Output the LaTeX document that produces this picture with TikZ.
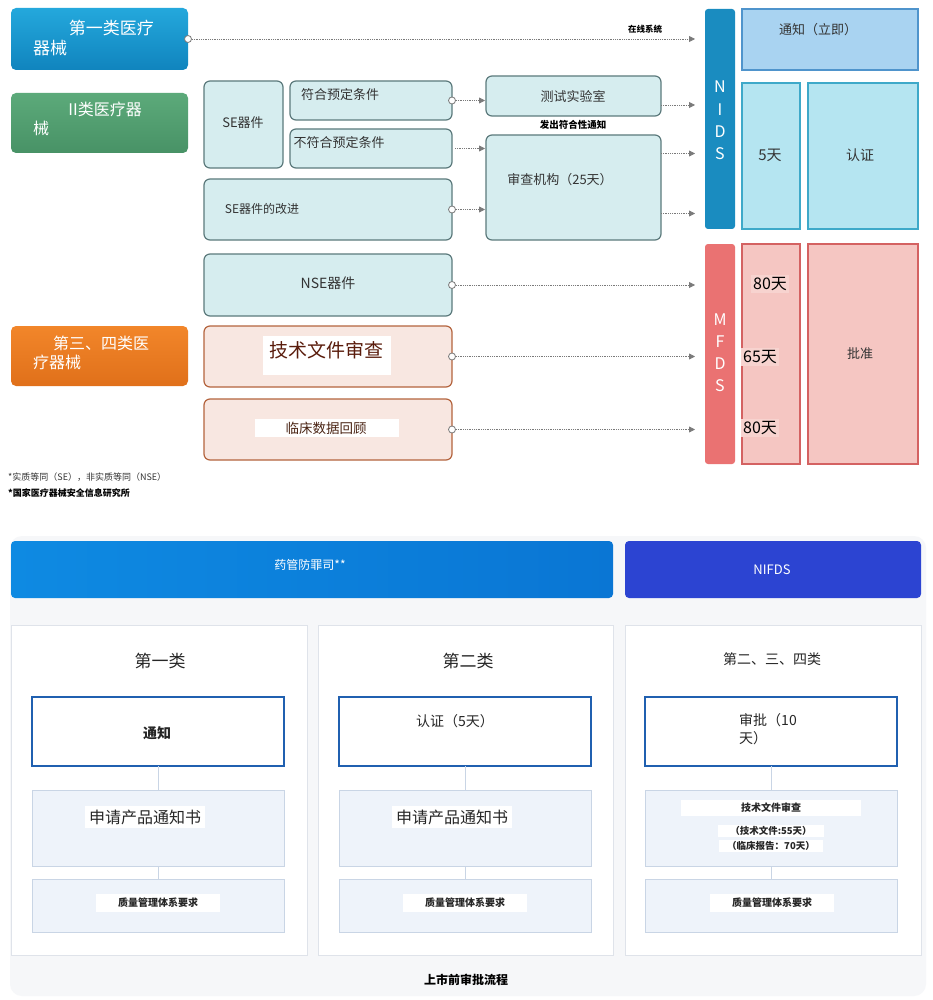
\documentclass[tikz,border=0pt]{standalone}
\usepackage{fontspec}
\newfontfamily\cjk{Noto Sans CJK SC}
\usetikzlibrary{arrows.meta,calc}
\definecolor{lbfill}{HTML}{D6EDEF}
\definecolor{lbdraw}{HTML}{5C7A7C}
\definecolor{pbfill}{HTML}{F8E7E1}
\definecolor{pbdraw}{HTML}{B4643E}
\definecolor{txtc}{HTML}{333333}
\definecolor{conngray}{HTML}{7A7A7A}
\definecolor{nidsc}{HTML}{1A8CC0}
\definecolor{ntffill}{HTML}{A9D3F1}
\definecolor{ntfdraw}{HTML}{4F94CC}
\definecolor{cyfill}{HTML}{B5E5F1}
\definecolor{cydraw}{HTML}{3EA9C9}
\definecolor{mfdsc}{HTML}{EA7272}
\definecolor{pkfill}{HTML}{F5C6C2}
\definecolor{pkdraw}{HTML}{D46262}
\definecolor{pkpatch}{HTML}{F7D3CF}
\definecolor{cardbg}{HTML}{F6F7F9}
\definecolor{paneldraw}{HTML}{DFE3EA}
\definecolor{bbdraw}{HTML}{2060B0}
\definecolor{ltfill}{HTML}{EEF3FA}
\definecolor{ltdraw}{HTML}{C9D5E5}
\definecolor{techc}{HTML}{5A1C0C}
\definecolor{clinc}{HTML}{4A2414}
\newcommand\mybox[7]{\node[#1,minimum width={(#4-#2)*1pt},minimum height={(#5-#3)*1pt},inner sep=0pt,outer sep=0pt] (#6) at ({(#2+#4)/2},{(#3+#5)/2}) {#7};}
\tikzset{
  lbox/.style={rounded corners=6pt, draw=lbdraw, fill=lbfill, line width=1.2pt},
  pbox/.style={rounded corners=6pt, draw=pbdraw, fill=pbfill, line width=1.2pt},
  txt/.style={font=\cjk, text=txtc, inner sep=0pt},
  wtxt/.style={font=\cjk, text=white, inner sep=0pt},
  conn/.style={draw=conngray, densely dotted, line width=0.8pt, -{Triangle[length=6pt,width=6pt]}, shorten >=10pt},
  conns/.style={draw=conngray, densely dotted, line width=0.8pt, -{Triangle[length=6pt,width=6pt]}, shorten >=1pt},
  dotc/.style={circle, draw=conngray, fill=white, line width=0.8pt, inner sep=0pt, minimum size=7pt},
  panel/.style={fill=white, draw=paneldraw, line width=0.8pt},
  bbox/.style={fill=white, draw=bbdraw, line width=1.8pt},
  ltbox/.style={fill=ltfill, draw=ltdraw, line width=0.8pt},
  vline/.style={draw=ltdraw, line width=0.8pt},
}
\begin{document}
\begin{tikzpicture}[x=1pt,y=-1pt]
\useasboundingbox (0,0) rectangle (933,1000);
\fill[white] (0,0) rectangle (933,1000);
% ---------------- top section ----------------
\mybox{rounded corners=5pt, top color={rgb,255:red,36;green,168;blue,220}, bottom color={rgb,255:red,16;green,132;blue,190}}{11}{8}{188}{70}{cat1}{}
\node[wtxt, align=left, anchor=west, font=\cjk\fontsize{17}{20}\selectfont] (cat1t) at (33,38) {\hspace*{2.1em}第一类医疗\\器械};
\mybox{rounded corners=5pt, top color={rgb,255:red,92;green,170;blue,122}, bottom color={rgb,255:red,72;green,146;blue,102}}{11}{93}{188}{153}{cat2}{}
\node[wtxt, align=left, anchor=west, font=\cjk\fontsize{16}{19}\selectfont] (cat2t) at (33,119) {\hspace*{2.2em}II类医疗器\\械};
\mybox{rounded corners=5pt, top color={rgb,255:red,242;green,134;blue,42}, bottom color={rgb,255:red,224;green,112;blue,26}}{11}{326}{188}{386}{cat3}{}
\node[wtxt, align=left, anchor=west, font=\cjk\fontsize{16}{19}\selectfont] (cat3t) at (33,353) {\hspace*{1.25em}第三、四类医\\疗器械};

\mybox{lbox}{204}{81}{283}{168}{se}{}
\node[txt, font=\cjk\fontsize{13}{16}\selectfont] (set) at (243,123) {SE器件};
\mybox{lbox}{290}{81}{452}{120}{fh}{}
\node[txt, font=\cjk\fontsize{13}{16}\selectfont] (fht) at (340,95) {符合预定条件};
\mybox{lbox}{290}{129}{452}{168}{nfh}{}
\node[txt, font=\cjk\fontsize{13}{16}\selectfont] (nfht) at (339,143) {不符合预定条件};
\mybox{lbox}{204}{179}{452}{240}{seg}{}
\node[txt, font=\cjk\fontsize{12}{15}\selectfont] (segt) at (262,209) {SE器件的改进};
\mybox{lbox}{486}{76}{661}{116}{test}{}
\node[txt, font=\cjk\fontsize{13}{16}\selectfont] (testt) at (573,96) {测试实验室};
\node[txt, font=\cjk\bfseries\fontsize{9.5}{12}\selectfont, text=black] (issue) at (573,125) {发出符合性通知};
\mybox{lbox}{486}{135}{661}{240}{rev}{}
\node[txt, font=\cjk\fontsize{13}{16}\selectfont] (revt) at (560,180) {审查机构（25天）};

\mybox{rounded corners=3pt, fill=nidsc}{705}{9}{735}{229}{nids}{}
\node[wtxt, font=\cjk\fontsize{16}{18}\selectfont] (n1) at (720,87) {N};
\node[wtxt, font=\cjk\fontsize{16}{18}\selectfont] (n2) at (720,110) {I};
\node[wtxt, font=\cjk\fontsize{16}{18}\selectfont] (n3) at (720,132) {D};
\node[wtxt, font=\cjk\fontsize{16}{18}\selectfont] (n4) at (720,154) {S};
\mybox{fill=ntffill, draw=ntfdraw, line width=1.2pt}{742}{9}{918}{70}{ntf}{}
\node[txt, font=\cjk\fontsize{13}{16}\selectfont] (ntft) at (818,30) {通知（立即）};
\mybox{fill=cyfill, draw=cydraw, line width=1.2pt}{742}{83}{800}{229}{d5}{}
\node[txt, font=\cjk\fontsize{15}{18}\selectfont] (d5t) at (770,155) {5天};
\mybox{fill=cyfill, draw=cydraw, line width=1.2pt}{808}{83}{918}{229}{cert}{}
\node[txt, font=\cjk\fontsize{14}{17}\selectfont] (certt) at (860,155) {认证};

\mybox{lbox}{204}{254}{452}{316}{nse}{}
\node[txt, font=\cjk\fontsize{14}{17}\selectfont] (nset) at (328,283) {NSE器件};
\mybox{pbox}{204}{326}{452}{387}{tech}{}
\mybox{fill=white, draw=none}{263}{336}{391}{375}{techw}{}
\node[txt, text=techc, font=\cjk\fontsize{19}{22}\selectfont] (techt) at (326,350) {技术文件审查};
\mybox{pbox}{204}{399}{452}{460}{clin}{}
\mybox{fill=white, draw=none}{255}{419}{399}{437}{clinw}{}
\node[txt, text=clinc, font=\cjk\fontsize{13.5}{16}\selectfont] (clint) at (326,428) {临床数据回顾};

\mybox{rounded corners=3pt, fill=mfdsc}{705}{244}{735}{464}{mfds}{}
\node[wtxt, font=\cjk\fontsize{16}{18}\selectfont] (m1) at (720,320) {M};
\node[wtxt, font=\cjk\fontsize{16}{18}\selectfont] (m2) at (720,342) {F};
\node[wtxt, font=\cjk\fontsize{16}{18}\selectfont] (m3) at (720,364) {D};
\node[wtxt, font=\cjk\fontsize{16}{18}\selectfont] (m4) at (720,386) {S};
\mybox{fill=pkfill, draw=pkdraw, line width=1.2pt}{742}{244}{800}{464}{dcol}{}
\mybox{fill=pkfill, draw=pkdraw, line width=1.2pt}{808}{244}{918}{464}{appr}{}
\node[txt, text=black, fill=pkpatch, inner sep=2pt, font=\cjk\fontsize{16}{19}\selectfont] (d80a) at (770,284) {80天};
\node[txt, text=black, fill=pkpatch, inner sep=2pt, font=\cjk\fontsize{16}{19}\selectfont] (d65) at (760,357) {65天};
\node[txt, text=black, fill=pkpatch, inner sep=2pt, font=\cjk\fontsize{16}{19}\selectfont] (d80b) at (760,428) {80天};
\node[txt, font=\cjk\fontsize{13}{16}\selectfont] (apprt) at (860,354) {批准};

% connectors top
\node[dotc] (dt1) at (cat1.east) {};
\draw[conn] (dt1.east) -- (dt1.east -| nids.west);
\node[txt, text=black, font=\cjk\bfseries\fontsize{8.5}{10}\selectfont] (online) at (645,29) {在线系统};
\node[dotc] (dt2) at (fh.east) {};
\draw[conns] (dt2.east) -- (dt2.east -| test.west);
\coordinate (c3) at ($(nfh.east)+(3,0)$);
\draw[conns] (c3) -- (c3 -| rev.west);
\node[dotc] (dt4) at (seg.east) {};
\draw[conns] (dt4.east) -- (dt4.east -| rev.west);
\coordinate (c5) at ($(test.east)+(0,9)$);
\draw[conn] (c5) -- (c5 -| nids.west);
\coordinate (c6) at ($(rev.east)+(0,-34)$);
\draw[conn] (c6) -- (c6 -| nids.west);
\coordinate (c7) at ($(rev.east)+(0,26)$);
\draw[conn] (c7) -- (c7 -| nids.west);
\node[dotc] (dt8) at (nse.east) {};
\draw[conn] (dt8.east) -- (dt8.east -| mfds.west);
\node[dotc] (dt9) at (tech.east) {};
\draw[conn] (dt9.east) -- (dt9.east -| mfds.west);
\node[dotc] (dt10) at (clin.east) {};
\draw[conn] (dt10.east) -- (dt10.east -| mfds.west);

\node[txt, anchor=west, text=black!80, font=\cjk\fontsize{9}{11}\selectfont] (fn1) at (8,477) {*实质等同（SE），非实质等同（NSE）};
\node[txt, anchor=west, text=black, font=\cjk\bfseries\fontsize{9}{11}\selectfont] (fn2) at (8,493) {*国家医疗器械安全信息研究所};

% ---------------- bottom section ----------------
\fill[cardbg, rounded corners=12pt] (10,536) rectangle (926,996);
\mybox{rounded corners=4pt, left color={rgb,255:red,14;green,138;blue,226}, right color={rgb,255:red,10;green,118;blue,212}}{11}{541}{613}{598}{hdr1}{}
\node[wtxt, font=\cjk\fontsize{12}{14}\selectfont] (hdr1t) at (310,565) {药管防罪司**};
\mybox{rounded corners=4pt, fill={rgb,255:red,44;green,68;blue,210}}{625}{541}{921}{598}{hdr2}{}
\node[wtxt, font=\cjk\fontsize{13}{15}\selectfont] (hdr2t) at (772,570) {NIFDS};

\mybox{panel}{11}{625}{307}{955}{p1}{}
\mybox{panel}{318}{625}{613}{955}{p2}{}
\mybox{panel}{625}{625}{921}{955}{p3}{}
\node[txt, text=black!85, font=\cjk\fontsize{17}{20}\selectfont] (t1) at (160,661) {第一类};
\node[txt, text=black!85, font=\cjk\fontsize{17}{20}\selectfont] (t2) at (468,661) {第二类};
\node[txt, text=black!85, font=\cjk\fontsize{14}{17}\selectfont] (t3) at (772,659) {第二、三、四类};

\mybox{bbox}{32}{697}{284}{766}{b1}{}
\mybox{bbox}{339}{697}{591}{766}{b2}{}
\mybox{bbox}{645}{697}{897}{766}{b3}{}
\node[txt, text=black!85, font=\cjk\bfseries\fontsize{14}{17}\selectfont] (b1t) at (157,733) {通知};
\node[txt, text=black!85, font=\cjk\fontsize{14}{17}\selectfont] (b2t) at (455,721) {认证（5天）};
\node[txt, text=black!85, align=left, font=\cjk\fontsize{14}{18}\selectfont] (b3t) at (768,729) {审批（10\\天）};

\mybox{ltbox}{32}{790}{284}{866}{l1}{}
\mybox{ltbox}{339}{790}{591}{866}{l2}{}
\mybox{ltbox}{645}{790}{897}{866}{l3}{}
\node[txt, text=black!85, fill=white, inner sep=4pt, font=\cjk\fontsize{16}{19}\selectfont] (l1t) at (145,817) {申请产品通知书};
\node[txt, text=black!85, fill=white, inner sep=4pt, font=\cjk\fontsize{16}{19}\selectfont] (l2t) at (452,817) {申请产品通知书};
\node[txt, text=black!85, fill=white, inner xsep=60pt, inner ysep=3pt, font=\cjk\bfseries\fontsize{10}{12}\selectfont] (l3a) at (771,808) {技术文件审查};
\node[txt, text=black!85, fill=white, inner xsep=12pt, inner ysep=1pt, font=\cjk\bfseries\fontsize{9.5}{12}\selectfont] (l3b) at (771,831) {（技术文件:55天）};
\node[txt, text=black!85, fill=white, inner xsep=8pt, inner ysep=1pt, font=\cjk\bfseries\fontsize{9.5}{12}\selectfont] (l3c) at (771,846) {（临床报告：70天）};

\mybox{ltbox}{32}{879}{284}{932}{q1}{}
\mybox{ltbox}{339}{879}{591}{932}{q2}{}
\mybox{ltbox}{645}{879}{897}{932}{q3}{}
\node[txt, text=black!85, fill=white, inner xsep=22pt, inner ysep=4pt, font=\cjk\bfseries\fontsize{10}{12}\selectfont] (q1t) at (158,903) {质量管理体系要求};
\node[txt, text=black!85, fill=white, inner xsep=22pt, inner ysep=4pt, font=\cjk\bfseries\fontsize{10}{12}\selectfont] (q2t) at (465,903) {质量管理体系要求};
\node[txt, text=black!85, fill=white, inner xsep=22pt, inner ysep=4pt, font=\cjk\bfseries\fontsize{10}{12}\selectfont] (q3t) at (772,903) {质量管理体系要求};

\draw[vline] (b1.south) -- (l1.north);
\draw[vline] (l1.south) -- (q1.north);
\draw[vline] (b2.south) -- (l2.north);
\draw[vline] (l2.south) -- (q2.north);
\draw[vline] (b3.south) -- (l3.north);
\draw[vline] (l3.south) -- (q3.north);

\node[txt, text=black, font=\cjk\bfseries\fontsize{12}{14}\selectfont] (foot) at (466,980) {上市前审批流程};
\end{tikzpicture}
\end{document}
